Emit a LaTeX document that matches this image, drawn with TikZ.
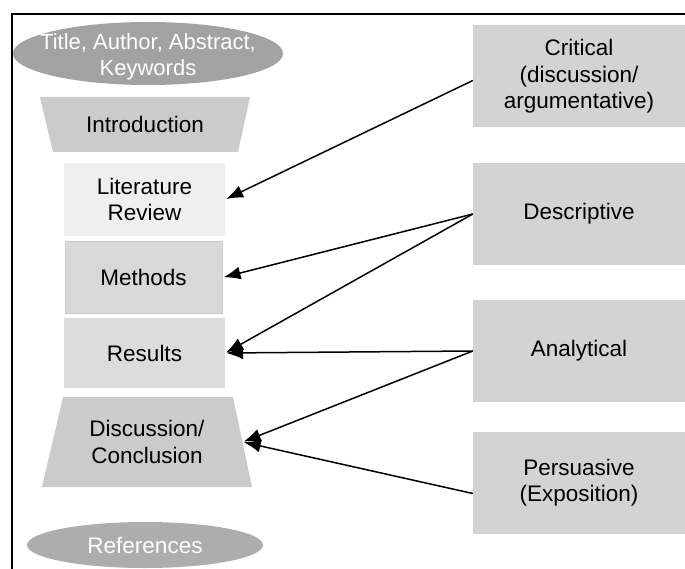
\documentclass[tikz,border=0pt]{standalone}
\usepackage{fontspec}
\setmainfont{Liberation Sans}
\usetikzlibrary{arrows.meta,shapes.geometric}
\definecolor{ellA}{HTML}{A2A2A2}
\definecolor{ellB}{HTML}{ADADAD}
\definecolor{trap}{HTML}{CBCBCB}
\definecolor{lite}{HTML}{EFEFEF}
\definecolor{midg}{HTML}{D8D8D8}
\definecolor{resg}{HTML}{DCDCDC}
\definecolor{rbox}{HTML}{D3D3D3}
\begin{document}
\begin{tikzpicture}[x=1pt,y=-1pt,
  every node/.style={font=\fontsize{22.5}{26.5}\selectfont, align=center, inner sep=0pt},
  lbox/.style={rectangle, minimum width=161pt},
  rbx/.style={rectangle, fill=rbox, minimum width=212pt, minimum height=102pt},
  conn/.style={-{Latex[length=17pt,width=13pt]}, line width=1.5pt, shorten >=1pt}]
\useasboundingbox (0,0) rectangle (685,569);
% frame
\draw[line width=2pt] (12,570) -- (12,14) -- (686,14);
% left column
\fill[ellA] (148,53.5) ellipse [x radius=135pt, y radius=31.5pt];
\node[text=white, font=\fontsize{22}{26}\selectfont] (title) at (148,57) {Title, Author, Abstract,\\Keywords};
\fill[trap] (40,97) -- (250,97) -- (238,152) -- (53,152) -- cycle;
\node[minimum width=200pt, minimum height=55pt] (intro) at (145,124.5) {Introduction};
\node[lbox, fill=lite, minimum height=73pt] (lit) at (144.5,199.5) {Literature\\Review};
\node[lbox, fill=midg, draw=trap, line width=1pt, minimum width=157pt, minimum height=71pt] (meth) at (143.5,277.5) {Methods};
\node[lbox, fill=resg, minimum height=70pt] (res) at (144.5,353) {Results};
\fill[trap] (63,397) -- (233,397) -- (252,487) -- (42,487) -- cycle;
\node[minimum width=191pt, minimum height=90pt] (disc) at (147,442) {Discussion/\\Conclusion};
\fill[ellB] (145,545) ellipse [x radius=118pt, y radius=23pt];
\node[text=white] (refs) at (145,545) {References};
% right column
\node[rbx] (crit) at (579,76.5) {Critical\\(discussion/\\argumentative)};
\node[rbx] (desc) at (579,214) {Descriptive};
\node[rbx] (anal) at (579,351) {Analytical};
\node[rbx] (pers) at (579,482.5) {Persuasive\\(Exposition)};
% connectors
\draw[conn] ([yshift=-4pt]crit.west) -- (lit.east);
\draw[conn] (desc.west) -- (meth.east);
\draw[conn] (desc.west) -- (res.east);
\draw[conn] (anal.west) -- (res.east);
\draw[conn] (anal.west) -- (disc.east);
\draw[conn] ([yshift=-11pt]pers.west) -- (disc.east);
\end{tikzpicture}
\end{document}
